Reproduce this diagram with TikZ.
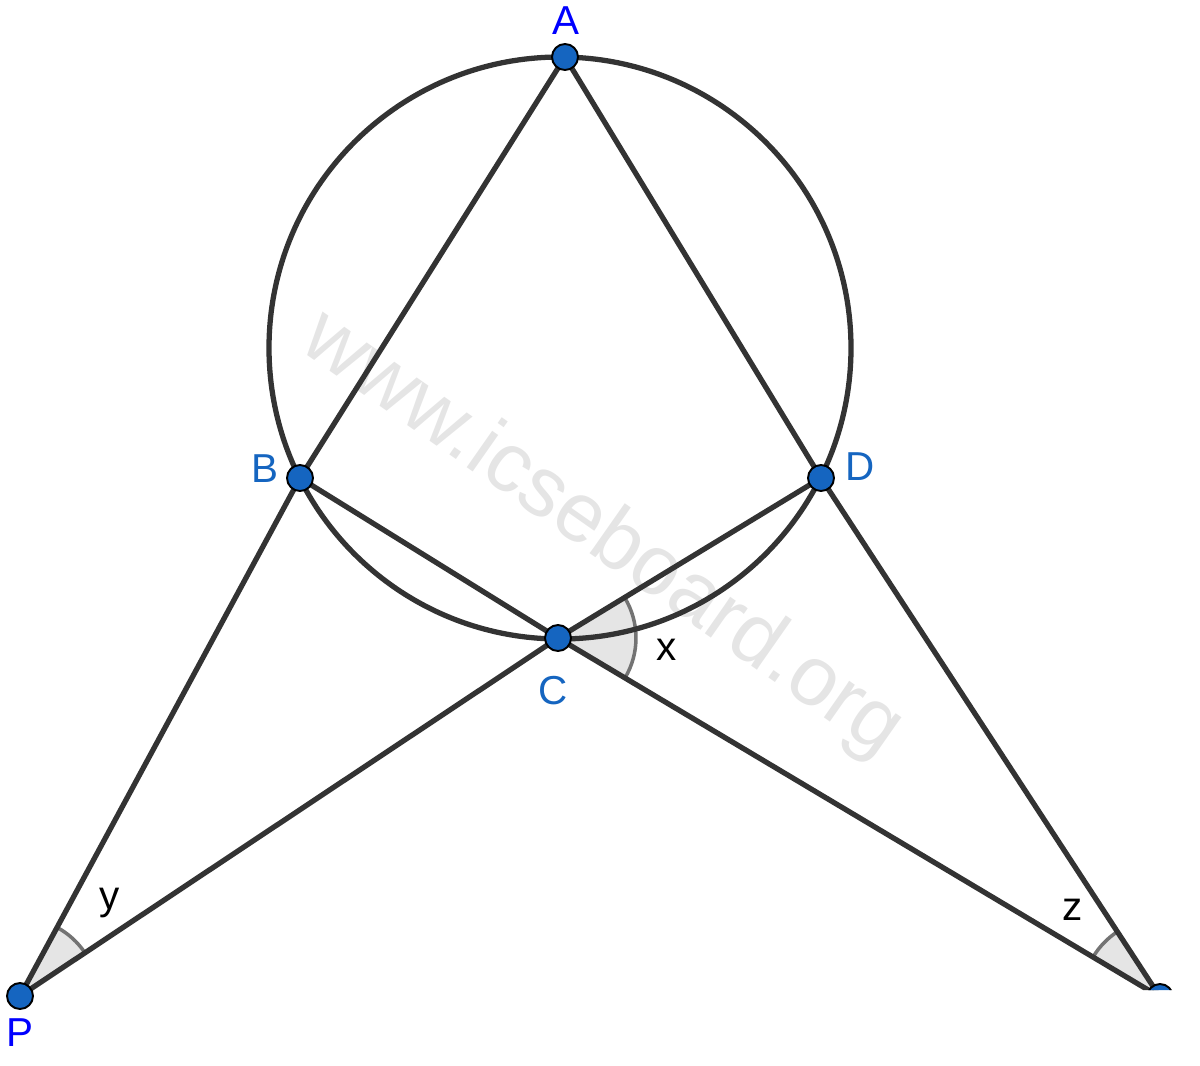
\documentclass[tikz,border=0pt]{standalone}
\usepackage{fontspec}
\setmainfont{Liberation Sans}
\usetikzlibrary{angles}

\definecolor{ptblue}{HTML}{1565C0}
\definecolor{lblblue}{HTML}{0000FF}
\definecolor{segcol}{HTML}{333333}

\tikzset{
  seg/.style={draw=segcol, line width=3pt},
  pt/.style={circle, draw=black, fill=ptblue, line width=1.1pt,
    inner sep=0pt, minimum size=0.52cm},
  ang/.style={draw=black!55, fill=black!10, line width=2pt, angle radius=#1},
  lbl/.style={font=\fontsize{23}{23}\selectfont, inner sep=0pt},
}

\begin{document}
\begin{tikzpicture}[x=0.02cm, y=-0.02cm]
  \useasboundingbox (0,0) rectangle (1200,1065);
  \node[rotate=-35, text=black!10, font=\fontsize{48}{48}\selectfont]
    (wm) at (602,535) {www.icseboard.org};

  \begin{scope}
  \clip (0,0) -- (1200,0) -- (1200,990) -- (1040,990) -- (1040,1065)
    -- (0,1065) -- cycle;
  \coordinate (O) at (560,348);
  \coordinate (A) at (565,57);
  \coordinate (B) at (300,478);
  \coordinate (D) at (821,478);
  \coordinate (C) at (558,638);
  \coordinate (P) at (20,996);
  \coordinate (Q) at (1160,997);

  \pic[ang=1.56cm] {angle=Q--C--D};
  \pic[ang=1.56cm] {angle=C--P--B};
  \pic[ang=1.56cm] {angle=D--Q--C};

  \draw[seg] (O) circle [radius=291];
  \path[seg]
    (A) edge (B)
        edge (D)
    (B) edge (P)
        edge (C)
    (D) edge (Q)
        edge (C)
    (C) edge (P)
        edge (Q);

  \foreach \p in {A,B,C,D,P,Q}
    \node[pt] (\p-dot) at (\p) {};
  \end{scope}

  \node[lbl, text=lblblue] (lA) at (566,21) {A};
  \node[lbl, text=ptblue] (lB) at (265,469) {B};
  \node[lbl, text=ptblue] (lC) at (553,691) {C};
  \node[lbl, text=ptblue] (lD) at (860,467) {D};
  \node[lbl, text=lblblue] (lP) at (20,1033) {P};
  \node[lbl] (lx) at (667,650) {x};
  \node[lbl] (ly) at (110,903) {y};
  \node[lbl] (lz) at (1073,910) {z};
\end{tikzpicture}
\end{document}
